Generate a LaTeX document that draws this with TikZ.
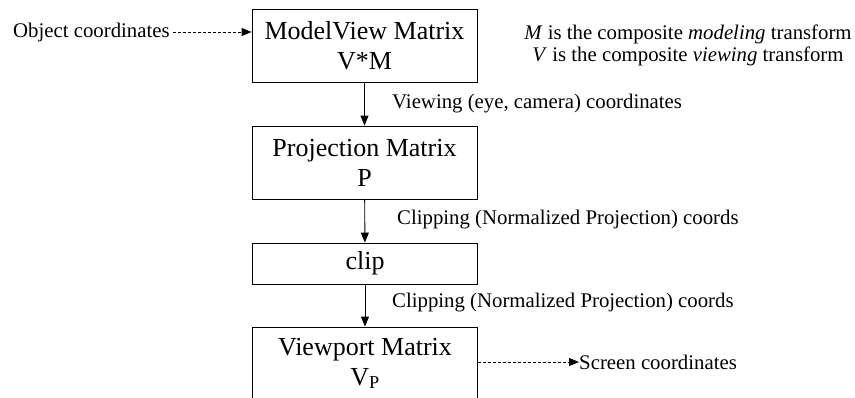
\documentclass[tikz,border=0pt]{standalone}
\usepackage{fontspec}
\setmainfont{Liberation Serif}
\usetikzlibrary{arrows.meta}
\tikzset{
	matbox/.style={draw, line width=0.9pt, minimum width=225pt, minimum height=73pt, align=center, inner sep=0pt, font=\fontsize{26}{30}\selectfont},
	lbl/.style={anchor=west, inner sep=0pt, font=\fontsize{20.8}{22}\selectfont},
	flow/.style={line width=0.9pt, -{Triangle[length=10pt, width=8pt]}},
	dashflow/.style={flow, dash pattern=on 3pt off 2pt}
}
\begin{document}
\begin{tikzpicture}[x=1pt, y=-1pt]
			\useasboundingbox (0,0) rectangle (855,397);
			% the four stages
			\node[matbox] (mv) at (364.5,46) {ModelView Matrix\\V*M};
			\node[matbox] (proj) at (364.5,162.5) {Projection Matrix\\P};
			\node[matbox, minimum height=41pt] (clp) at (365,263.5) {clip};
			\node[matbox] (vp) at (365,363.5) {Viewport Matrix\\V\textsubscript{P}};
			% in and out
			\node[lbl] (obj) at (13,32) {Object coordinates};
			\node[lbl] (scr) at (579,362) {Screen coordinates};
			\node[lbl, anchor=center, align=center] (note) at (688,45) {\textit{M} is the composite \textit{modeling} transform\\\textit{V} is the composite \textit{viewing} transform};
			% coordinate names
			\node[lbl] (eye) at (392,104) {Viewing (eye, camera) coordinates};
			\node[lbl] (ndc1) at (397,220) {Clipping (Normalized Projection) coords};
			\node[lbl] (ndc2) at (392,303) {Clipping (Normalized Projection) coords};
			\draw[dashflow] (obj.east) ++(3pt,0) -- (mv.west |- obj.east);
			\draw[flow] (mv) -- (proj);
			\draw[flow] (proj) -- (clp);
			\draw[flow] (clp) -- (vp);
			\draw[dashflow] (vp.east |- scr.west) -- (scr.west);
		\end{tikzpicture}
\end{document}
